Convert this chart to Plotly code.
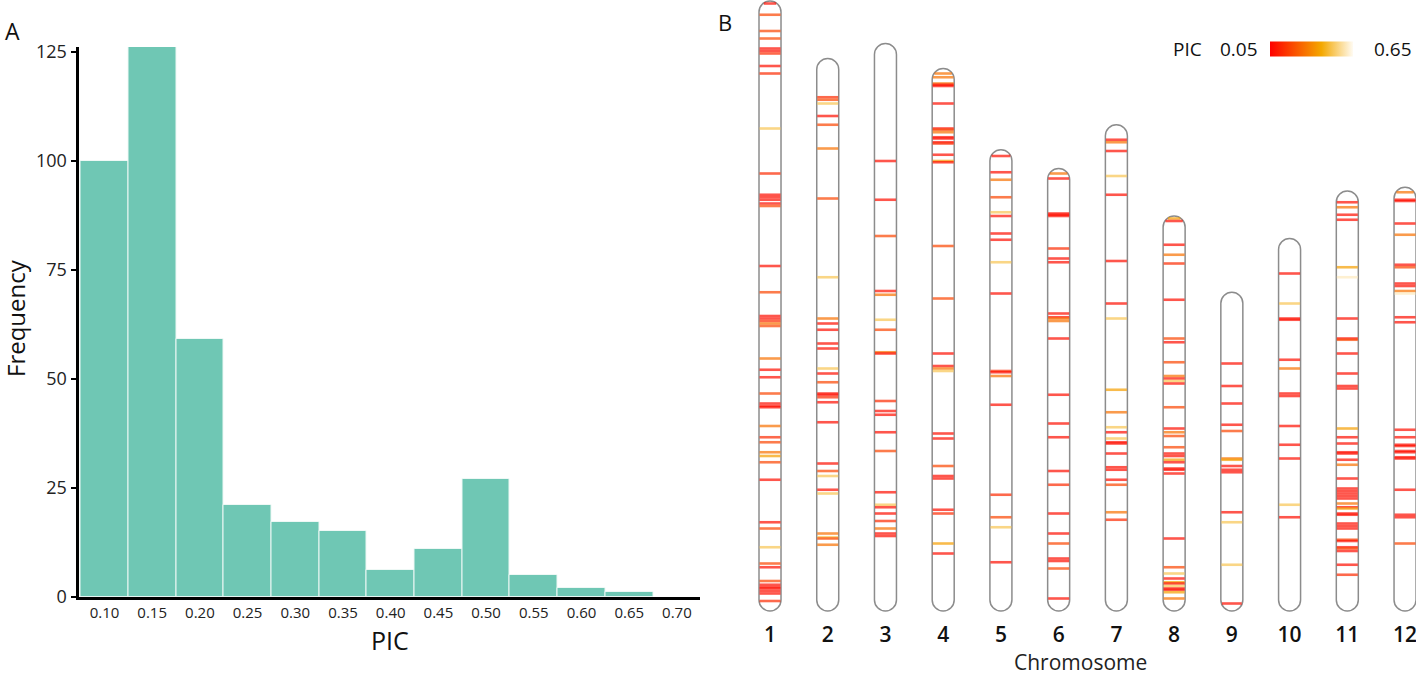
import math
import plotly.graph_objects as go

# ---------------- Panel A data (histogram of PIC) ----------------
pic_bins = [0.10, 0.15, 0.20, 0.25, 0.30, 0.35, 0.40, 0.45, 0.50, 0.55, 0.60, 0.65]
pic_counts = [100, 126, 59, 21, 17, 15, 6, 11, 27, 5, 2, 1]
pic_ticks = [0.10, 0.15, 0.20, 0.25, 0.30, 0.35, 0.40, 0.45, 0.50, 0.55, 0.60, 0.65, 0.70]
freq_ticks = [0, 25, 50, 75, 100, 125]

# ---------------- Panel B data (marker positions, Mb from top; PIC) ----------------
chrom_names = ["1", "2", "3", "4", "5", "6", "7", "8", "9", "10", "11", "12"]
chrom_len = [48.8, 44.2, 45.4, 43.4, 36.9, 35.4, 38.9, 31.6, 25.5, 29.8, 33.6, 33.9]

chr1_pos = [0.2, 1.1, 2.4, 3.0, 3.8, 4.0, 4.2, 5.2, 5.8, 10.2, 13.8, 15.5, 15.7, 15.9, 16.2, 16.4,
            21.2, 23.3, 25.2, 25.4, 25.6, 25.8, 26.0, 28.6, 29.5, 30.1, 31.4, 32.2, 32.4, 32.5,
            34.0, 34.9, 35.3, 36.1, 36.4, 36.9, 38.3, 41.7, 42.2, 43.7, 45.0, 45.3, 46.4, 46.7,
            46.9, 47.0, 47.2, 47.4, 48.0]
chr1_pic = [.08, .20, .20, .20, .08, .08, .14, .08, .14, .50, .14, .08, .08, .08, .08, .20,
            .08, .20, .08, .08, .14, .30, .20, .30, .08, .08, .20, .08, .08, .08,
            .30, .14, .20, .30, .40, .20, .08, .08, .20, .50, .20, .08, .20, .08,
            .08, .08, .08, .08, .14]

chr2_pos = [3.1, 3.3, 3.6, 4.6, 5.3, 7.2, 11.2, 17.5, 20.8, 21.2, 21.7, 22.8, 23.2, 24.8, 25.2,
            25.9, 26.8, 26.9, 27.1, 27.5, 29.1, 32.4, 33.0, 33.4, 34.5, 34.8, 38.0, 38.3, 38.4, 38.9]
chr2_pic = [.14, .20, .50, .08, .20, .30, .20, .50, .30, .08, .08, .08, .08, .50, .08,
            .20, .08, .08, .14, .08, .08, .08, .20, .50, .08, .50, .30, .50, .20, .30]

chr3_pos = [9.4, 12.5, 15.4, 19.8, 20.1, 22.1, 22.9, 24.7, 24.8, 28.6, 29.4, 29.7, 31.1, 32.6,
            35.9, 36.9, 37.1, 37.6, 38.2, 38.8, 39.2, 39.4]
chr3_pic = [.08, .08, .20, .08, .30, .50, .20, .30, .08, .14, .08, .08, .08, .20,
            .08, .50, .08, .08, .14, .30, .08, .08]

chr4_pos = [0.4, 0.7, 1.2, 1.3, 1.4, 2.8, 4.8, 4.9, 5.1, 5.5, 5.6, 5.9, 6.0, 6.9, 7.4, 7.5,
            14.2, 18.4, 22.8, 23.8, 24.0, 24.2, 29.2, 29.6, 31.8, 32.6, 32.8, 35.3, 35.6, 38.0, 38.8]
chr4_pic = [.30, .30, .30, .08, .08, .08, .08, .20, .30, .08, .08, .08, .14, .08, .40, .08,
            .20, .20, .08, .08, .30, .50, .08, .08, .20, .08, .08, .08, .14, .40, .08]

chr5_pos = [0.5, 1.8, 2.4, 3.8, 5.0, 5.3, 6.7, 7.2, 9.0, 11.5, 17.7, 17.8, 18.1, 20.4, 27.6,
            29.4, 30.2, 33.0]
chr5_pic = [.08, .08, .30, .20, .50, .08, .08, .08, .50, .08, .14, .08, .30, .08, .14,
            .20, .50, .08]

chr6_pos = [0.4, 0.8, 3.6, 3.7, 3.8, 6.4, 7.2, 7.5, 11.6, 11.9, 12.0, 12.2, 13.6, 18.1, 20.4,
            21.5, 24.2, 25.3, 27.6, 29.2, 30.0, 31.2, 31.4, 32.0, 34.4]
chr6_pic = [.30, .08, .08, .08, .08, .14, .08, .08, .08, .08, .30, .30, .08, .08, .08,
            .08, .08, .14, .08, .08, .20, .08, .08, .20, .08]

chr7_pos = [1.2, 1.4, 2.1, 4.1, 5.6, 10.9, 14.3, 15.5, 21.2, 23.0, 24.2, 24.6, 25.1, 25.4, 25.5,
            26.3, 27.4, 27.6, 28.4, 28.8, 31.0, 31.6]
chr7_pic = [.08, .30, .08, .50, .08, .08, .08, .50, .40, .30, .50, .08, .50, .08, .08,
            .08, .08, .08, .08, .20, .30, .14]

chr8_pos = [0.2, 0.4, 2.3, 3.1, 3.8, 6.7, 9.8, 10.1, 11.7, 12.8, 13.0, 13.2, 13.4, 15.3, 17.0,
            17.3, 17.6, 18.5, 19.0, 19.2, 19.5, 19.7, 20.2, 20.3, 20.6, 25.8, 28.1, 28.6, 29.0,
            29.3, 29.4, 29.6, 29.8, 29.9, 30.1, 30.6]
chr8_pic = [.40, .08, .08, .30, .14, .08, .20, .08, .20, .30, .08, .50, .08, .20, .08,
            .30, .20, .20, .08, .08, .40, .08, .08, .08, .08, .08, .20, .50, .08,
            .40, .08, .50, .08, .08, .40, .30]

chr9_pos = [5.7, 7.5, 8.9, 10.6, 11.1, 13.3, 13.4, 13.9, 14.2, 14.4, 17.6, 18.4, 21.8, 24.9]
chr9_pic = [.08, .08, .08, .08, .20, .30, .40, .08, .08, .08, .08, .50, .50, .08]

chr10_pos = [2.8, 5.2, 6.4, 6.5, 9.7, 10.4, 12.4, 12.6, 15.0, 16.5, 17.6, 21.3, 22.3]
chr10_pic = [.08, .50, .08, .08, .08, .30, .08, .08, .08, .08, .08, .50, .08]

chr11_pos = [0.9, 1.3, 1.9, 2.3, 6.1, 6.9, 10.2, 11.8, 11.9, 13.0, 14.6, 15.6, 15.8, 19.0, 19.7,
             20.2, 20.9, 21.0, 21.5, 21.9, 23.0, 23.8, 24.0, 24.2, 24.4, 24.6, 25.0, 25.3, 25.4,
             25.8, 25.9, 26.6, 26.8, 27.0, 27.9, 28.0, 28.5, 28.6, 28.8, 29.9, 30.7]
chr11_pic = [.08, .30, .08, .08, .40, .60, .08, .08, .20, .08, .08, .08, .08, .40, .08,
             .08, .08, .08, .08, .30, .08, .08, .08, .08, .08, .08, .30, .08, .40,
             .08, .08, .08, .08, .08, .20, .08, .08, .20, .08, .08, .14]

chr12_pos = [0.4, 1.0, 1.1, 2.9, 3.8, 6.2, 6.4, 7.7, 7.9, 8.3, 8.5, 10.4, 10.8, 19.4, 20.0,
             20.6, 20.7, 21.1, 21.2, 21.6, 21.7, 24.2, 26.2, 26.4, 28.5]
chr12_pic = [.30, .08, .08, .08, .30, .08, .20, .08, .08, .30, .60, .08, .08, .08, .08,
             .08, .08, .08, .08, .08, .08, .08, .08, .08, .20]

all_pos = [chr1_pos, chr2_pos, chr3_pos, chr4_pos, chr5_pos, chr6_pos,
           chr7_pos, chr8_pos, chr9_pos, chr10_pos, chr11_pos, chr12_pos]
all_pic = [chr1_pic, chr2_pic, chr3_pic, chr4_pic, chr5_pic, chr6_pic,
           chr7_pic, chr8_pic, chr9_pic, chr10_pic, chr11_pic, chr12_pic]

# ---------------- style / layout constants ----------------
W, H = 1416, 677
FONT = "Open Sans"
BAR_COLOR = "#6fc7b4"
PIC_SCALE = [[0.0, "#ff0000"], [0.62, "#f4a800"], [1.0, "#fffbf2"]]


def fx(p):
    """page pixel x -> paper fraction"""
    return p / W


def fy(p):
    """page pixel y -> paper fraction"""
    return 1 - p / H


# Panel B geometry (pixel based)
PX_PER_MB = 12.5
PX_PER_CHR = 57.73
HALF_W_PX = 11.0
MARK_HALF_PX = 10.5
xb0_px = 741.14
xb_end_px = W
xb_range = [0.5, 0.5 + (xb_end_px - xb0_px) / PX_PER_CHR]
yb_bottom_px = 614
yb_zero_px = 611
yb_top_px = 0
yb_range = [-(yb_bottom_px - yb_zero_px) / PX_PER_MB, (yb_zero_px - yb_top_px) / PX_PER_MB]

fig = go.Figure()

# ---- Panel A: histogram ----
fig.add_trace(go.Bar(
    x=pic_bins, y=pic_counts, width=0.05,
    marker=dict(color=BAR_COLOR, line=dict(color="#eef8f5", width=1)),
    xaxis="x", yaxis="y", showlegend=False, hoverinfo="x+y",
))

# ---- Panel B: chromosome outlines ----
hw = HALF_W_PX / PX_PER_CHR
ry = HALF_W_PX / PX_PER_MB
k = 0.5523
shapes = []
for i, L in enumerate(chrom_len):
    xc = i + 1
    t, b = L, 0.0
    p = (f"M{xc-hw},{b+ry} L{xc-hw},{t-ry} "
         f"C{xc-hw},{t-ry+k*ry} {xc-k*hw},{t} {xc},{t} "
         f"C{xc+k*hw},{t} {xc+hw},{t-ry+k*ry} {xc+hw},{t-ry} "
         f"L{xc+hw},{b+ry} "
         f"C{xc+hw},{b+ry-k*ry} {xc+k*hw},{b} {xc},{b} "
         f"C{xc-k*hw},{b} {xc-hw},{b+ry-k*ry} {xc-hw},{b+ry} Z")
    shapes.append(dict(type="path", path=p, xref="x2", yref="y2",
                       line=dict(color="#8c8c8c", width=1.5),
                       fillcolor="white", layer="below"))

# ---- Panel B: markers ----
mx, my, mc, ms = [], [], [], []
for i, (L, poss, pics) in enumerate(zip(chrom_len, all_pos, all_pic)):
    for p, v in zip(poss, pics):
        mx.append(i + 1)
        my.append(L - p)
        mc.append(v)
        d_top = p * PX_PER_MB
        d_bot = (L - p) * PX_PER_MB
        half = MARK_HALF_PX
        for dd in (d_top, d_bot):
            if dd < HALF_W_PX:
                off = HALF_W_PX - dd
                half = min(half, math.sqrt(max(MARK_HALF_PX**2 - off**2, 1.0)))
        ms.append(2 * half / 1.4)

fig.add_trace(go.Scatter(
    x=mx, y=my, mode="markers", xaxis="x2", yaxis="y2",
    showlegend=False, hoverinfo="y", cliponaxis=False,
    marker=dict(symbol="line-ew-open", size=ms, color=mc,
                colorscale=PIC_SCALE, cmin=0.05, cmax=0.65,
                line=dict(width=2.6),
                showscale=True,
                colorbar=dict(orientation="h", x=fx(1311.5), xanchor="center",
                              y=fy(48.5), yanchor="middle",
                              len=83, lenmode="pixels", thickness=15,
                              outlinewidth=0, showticklabels=False, ticks="",
                              xpad=0, ypad=0)),
))


def ann(text, x, y, size, angle=0, color="#111", weight=None):
    f = dict(family=FONT, size=size, color=color)
    if weight:
        f["weight"] = weight
    return dict(text=text, x=fx(x), y=fy(y), xref="paper", yref="paper",
                textangle=angle, xanchor="center", yanchor="middle",
                showarrow=False, font=f)


annotations = [
    ann("A", 12, 31, 23),
    ann("B", 725, 22, 22),
    ann("Frequency", 15, 318, 24, angle=-90),
    ann("PIC", 390, 640, 25),
    ann("Chromosome", 1080, 662, 21, color="#222"),
    ann("PIC", 1187, 48.5, 19),
    ann("0.05", 1239, 48.5, 19),
    ann("0.65", 1393, 48.5, 19),
]

fig.update_layout(
    width=W, height=H,
    margin=dict(l=0, r=0, t=0, b=0, autoexpand=False),
    paper_bgcolor="white", plot_bgcolor="white",
    bargap=0,
    shapes=shapes,
    annotations=annotations,
    xaxis=dict(domain=[fx(78.5), fx(700)], range=[0.0712 + 1.5 / 954, 0.7242],
               tickvals=pic_ticks, tickformat=".2f",
               showline=True, linecolor="black", linewidth=3,
               ticks="", showgrid=False, zeroline=False,
               tickfont=dict(family=FONT, size=15, color="#222")),
    yaxis=dict(domain=[fy(596.5), fy(47)], range=[0, 126.1],
               tickvals=freq_ticks,
               showline=True, linecolor="black", linewidth=3,
               ticks="outside", ticklen=5, tickwidth=1.5, tickcolor="black",
               showgrid=False, zeroline=False,
               tickfont=dict(family=FONT, size=18, color="#222")),
    xaxis2=dict(domain=[fx(xb0_px), fx(xb_end_px)], range=xb_range, anchor="y2",
                tickvals=list(range(1, 13)), ticktext=chrom_names,
                ticks="outside", ticklen=2, tickcolor="rgba(0,0,0,0)",
                ticklabeloverflow="allow",
                showline=False, showgrid=False, zeroline=False,
                tickfont=dict(family=FONT, size=21, color="#111", weight=600)),
    yaxis2=dict(domain=[fy(yb_bottom_px), fy(yb_top_px)], range=yb_range, anchor="x2",
                visible=False, showgrid=False, zeroline=False),
)

fig.write_html("out.html",
               config={"displayModeBar": False},
               post_script="document.body.style.margin='0';"
                           "document.body.style.overflow='hidden';")
